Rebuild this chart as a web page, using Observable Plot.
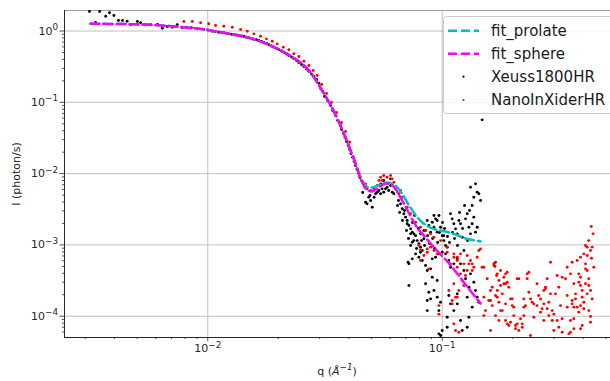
<!DOCTYPE html>
<html><head><meta charset="utf-8">
<script src="https://cdn.jsdelivr.net/npm/d3@7"></script>
<script src="https://cdn.jsdelivr.net/npm/@observablehq/plot@0.6"></script>
<style>
body{margin:0;background:#fff;}
#chart{position:relative;width:610px;height:381px;overflow:hidden;}
</style></head><body><div id="chart"></div>
<script>
// ---- tick values / labels ----
const xMajor = [0.01, 0.1];
const xMajorLabels = [["10","−2"],["10","−1"]];
const xMinor = [0.003,0.004,0.005,0.006,0.007,0.008,0.009,0.02,0.03,0.04,0.05,0.06,0.07,0.08,0.09,0.2,0.3,0.4,0.5];
const yMajor = [1, 0.1, 0.01, 0.001, 0.0001];
const yMajorLabels = [["10","0"],["10","−1"],["10","−2"],["10","−3"],["10","−4"]];
const yMinor = [0.9,0.8,0.7,0.6,0.5,0.4,0.3,0.2,0.09,0.08,0.07,0.06,0.05,0.04,0.03,0.02,0.009,0.008,0.007,0.006,0.005,0.004,0.003,0.002,0.0009,0.0008,0.0007,0.0006,0.0005,0.0004,0.0003,0.0002,0.00009,0.00008,0.00007,0.00006];
const xDomain = [0.002449, 0.522];
const yDomain = [5.03e-5, 1.94];
const seriesNames = ["fit_prolate","fit_sphere","Xeuss1800HR","NanoInXiderHR"];
const seriesColors = ["#00bfbf","#ff00ff","#000000","#ff0000"];

// ---- fits [q, I] ----
const sphere = [[0.00316,1.262],[0.00425,1.254],[0.0057,1.22],[0.00766,1.14],[0.01,1.035],[0.01251,0.905],[0.01522,0.79],[0.01854,0.625],[0.02148,0.49],[0.0249,0.36],[0.02744,0.262],[0.0303,0.158],[0.0334,0.092],[0.0368,0.0473],[0.0399,0.0248],[0.0427,0.01386],[0.0448,0.00881],[0.0476,0.00598],[0.0504,0.00561],[0.0535,0.00638],[0.0573,0.00726],[0.0614,0.00681],[0.0664,0.00462],[0.0719,0.00285],[0.0777,0.00181],[0.0849,0.00127],[0.0937,0.00087],[0.1033,0.000624],[0.114,0.000424],[0.1257,0.000279],[0.1457,0.000151]];
const prolate = [[0.00316,1.262],[0.00425,1.254],[0.0057,1.22],[0.00766,1.14],[0.01,1.035],[0.01251,0.905],[0.01522,0.79],[0.01854,0.625],[0.02148,0.49],[0.0249,0.36],[0.02744,0.262],[0.0303,0.158],[0.0334,0.092],[0.0368,0.0473],[0.0399,0.0248],[0.0427,0.01386],[0.0448,0.00881],[0.0476,0.00659],[0.0504,0.00638],[0.0545,0.00703],[0.0588,0.0075],[0.0632,0.00681],[0.0677,0.00509],[0.0732,0.00334],[0.0792,0.00234],[0.0857,0.00187],[0.0937,0.00164],[0.1033,0.00154],[0.114,0.0014],[0.1257,0.00123],[0.1457,0.00112]];

// ---- Xeuss1800HR [q, I] ----
const xeuss = [[0.00313,1.877],[0.00332,1.316],[0.00346,1.877],[0.00367,1.613],[0.00381,1.8],[0.00398,1.65],[0.00416,1.404],[0.00433,1.404],[0.00453,1.372],[0.00469,1.222],[0.00501,1.359],[0.00517,1.303],[0.00543,1.222],[0.0057,1.234],[0.00611,1.234],[0.0064,1.095],[0.00672,1.156],[0.00706,1.131],[0.00741,1.222],[0.00778,1.109],[0.00812,1.131],[0.00851,1.109],[0.00902,1.074],
[0.0096,1.056],[0.01,1.039],[0.01045,0.994],[0.01074,0.984],[0.01115,0.962],[0.01145,0.953],[0.01171,0.944],[0.01203,0.922],[0.0123,0.913],[0.01264,0.899],[0.01292,0.893],[0.01327,0.879],[0.01357,0.865],[0.01394,0.851],[0.01426,0.837],[0.01464,0.816],[0.01497,0.803],[0.01538,0.785],[0.01573,0.767],[0.01615,0.753],[0.01652,0.736],[0.01697,0.712],[0.01735,0.69],[0.01782,0.668],[0.01823,0.641],[0.01872,0.616],[0.01914,0.593],[0.01966,0.568],[0.02011,0.545],[0.02065,0.524],[0.02112,0.504],[0.02168,0.476],[0.02218,0.453],[0.02278,0.432],[0.0233,0.407],[0.02392,0.386],[0.02447,0.362],[0.02512,0.339],[0.0257,0.318],[0.02638,0.293],[0.027,0.273],[0.02771,0.249],[0.02836,0.23],[0.0291,0.209],[0.02978,0.185],[0.0303,0.156],[0.0309,0.1417],[0.0315,0.1206],[0.0324,0.106],[0.0334,0.0902],[0.0341,0.0767],[0.0351,0.0653],[0.0358,0.0556],[0.0368,0.0473],[0.0372,0.0416],[0.0379,0.0365],[0.0385,0.0321],[0.0391,0.0282],[0.0397,0.0248],[0.0403,0.0218],[0.0408,0.0191],[0.0415,0.0168],[0.0421,0.01478],[0.0427,0.013],[0.0433,0.01142],[0.044,0.01003],[0.0446,0.00882],[0.0453,0.008],[0.046,0.00726],[0.0467,0.00659],
[0.0458,0.00543],[0.0471,0.00397],[0.0478,0.00377],[0.0495,0.00419],[0.0503,0.00338],[0.0486,0.00467],[0.0512,0.00467],[0.052,0.00521],[0.0528,0.00548],[0.0537,0.00579],[0.0546,0.00521],[0.0554,0.00612],[0.0563,0.00548],[0.0573,0.00612],[0.0582,0.00645],[0.0591,0.00579],[0.0602,0.00681],[0.0612,0.00548],[0.0622,0.00521],[0.0602,0.00845],[0.0563,0.008],[0.0546,0.00719],[0.0512,0.00579],[0.0492,0.00493],
[0.0651,0.00419],[0.0664,0.00377],[0.0675,0.00321],[0.0686,0.00273],[0.0698,0.00245],[0.0709,0.0022],[0.0721,0.00187],[0.0733,0.00168],[0.0745,0.00151],[0.0757,0.00115],[0.077,0.00135],[0.0795,0.00104],[0.0808,0.00093],[0.0822,0.000834],[0.0835,0.00122],[0.0849,0.00159],[0.0863,0.0022],[0.0877,0.00187],[0.0892,0.00151],[0.0907,0.00208],[0.0922,0.00258],[0.0937,0.00232],[0.0952,0.0022],[0.0968,0.00258],[0.0984,0.00177],[0.1,0.00135],[0.1016,0.00115],[0.1033,0.00098],[0.105,0.00093],[0.1085,0.00273],[0.1103,0.00232],[0.1121,0.00198],[0.114,0.00168],[0.1159,0.00143],[0.1178,0.0022],[0.1197,0.00198],[0.1217,0.00128],[0.1237,0.000834],[0.1257,0.00232],[0.1278,0.00273],[0.1299,0.00177],[0.132,0.00143],[0.1342,0.00357],[0.1364,0.00467],[0.1387,0.00719],[0.141,0.00548],[0.1433,0.00521],[0.1457,0.00419],[0.1364,0.00245],[0.1342,0.00198],[0.141,0.00177],[0.1387,0.00151],[0.132,0.00645],[0.148,0.0568],
[0.0709,0.00198],[0.0757,0.00143],[0.0782,0.00115],[0.0808,0.00143],[0.0835,0.00159],[0.0922,0.00177],[0.0952,0.00151],[0.1016,0.00135],[0.0721,0.000543],[0.0745,0.000638],[0.077,0.00075],[0.0795,0.000672],[0.0808,0.00079],[0.0822,0.000604],[0.0849,0.000514],[0.0863,0.000438],[0.0892,0.000462],[0.0907,0.000638],[0.0937,0.000672],[0.0968,0.00075],[0.1,0.00079],[0.1033,0.00075],[0.1067,0.000604],[0.1085,0.000487],[0.1121,0.000543],[0.1159,0.000638],[0.1197,0.000543],[0.1237,0.000438],[0.1257,0.000335],[0.1299,0.000255],[0.132,0.000393],[0.1364,0.0003],[0.1387,0.000229],[0.141,0.000185],[0.1433,0.000157],[0.0849,0.000285],[0.0877,0.000217],[0.0863,0.00012],[0.0892,0.000175],[0.0952,0.000185],[0.0984,0.000157],[0.1,0.000063],[0.0984,0.0000536],[0.105,0.0000969],[0.105,0.0000702],[0.1085,0.000149],[0.1121,0.00012],[0.1159,0.000149],[0.1197,0.000087],[0.1217,0.000063],[0.1278,0.0000702],[0.1299,0.0000969],[0.1342,0.000134],[0.1278,0.000185],[0.1159,0.000206],[0.0907,0.000352],[0.0952,0.000317],[0.0721,0.00027],[0.0863,0.000166],[0.0968,0.00012],[0.1067,0.000195],[0.0715,0.000572],[0.0733,0.00143],[0.0745,0.00109],[0.0922,0.000229],[0.0968,0.0000566],
[0.0645,0.00357],[0.0658,0.00285],[0.0677,0.0022],[0.069,0.00304],[0.0704,0.00159],[0.0718,0.00123],[0.0733,0.00098],[0.0747,0.00206],[0.0762,0.00258],[0.0777,0.00089],[0.0792,0.0017],[0.0816,0.00115],[0.0841,0.00098],[0.0866,0.00135],[0.0883,0.00105],[0.091,0.00123],[0.0928,0.00089],[0.0956,0.00108],[0.0974,0.00149],[0.1003,0.00206],[0.1023,0.0017],[0.1053,0.00131],[0.1074,0.00108],[0.1107,0.00149],[0.1128,0.00123],[0.1162,0.00098],[0.1185,0.00285],[0.1221,0.0017],[0.1245,0.00357],[0.1283,0.00115],[0.1308,0.00304]];

// ---- NanoInXiderHR [q, I] ----
const nano = [[0.00791,1.359],[0.00859,1.359],[0.00932,1.303],[0.0101,1.262],[0.0108,1.194],[0.01171,1.168],[0.01272,1.131],[0.0138,1.05],[0.01474,0.994],[0.01573,0.913],[0.0168,0.846],[0.0178,0.777],[0.01884,0.719],[0.01978,0.661],[0.021,0.593],[0.02218,0.545],[0.0233,0.479],[0.02447,0.439],[0.0257,0.377],[0.027,0.328],[0.02817,0.279],[0.0293,0.238],[0.0306,0.1777],[0.0321,0.1328],[0.0337,0.0994],[0.0354,0.0719],[0.0372,0.0521],[0.0387,0.039],[0.0403,0.0277],[0.042,0.0167],[0.0434,0.01167],[0.0444,0.0091],
[0.0471,0.00719],[0.0478,0.00612],[0.0495,0.00579],[0.0512,0.00612],[0.0528,0.00681],[0.0537,0.008],[0.0546,0.0089],[0.0554,0.008],[0.0563,0.0094],[0.0582,0.0089],[0.0602,0.0094],[0.0612,0.00845],[0.0622,0.00757],[0.0632,0.00612],[0.0653,0.00521],[0.0664,0.00579],[0.0675,0.00467],[0.0709,0.00338],[0.0733,0.00273],[0.077,0.00208],[0.0808,0.00177],[0.0849,0.00159],[0.0892,0.00143],[0.0922,0.00128],[0.0795,0.00098],[0.0863,0.00088],[0.0984,0.00115],[0.105,0.00093],[0.1159,0.000672],[0.1278,0.00071],[0.1342,0.000543],[0.1457,0.00088],[0.148,0.000487],[0.1662,0.000514],[0.0877,0.000462],[0.0808,0.000604],
[0.0808,0.000853],[0.0835,0.00071],[0.0863,0.00079],[0.0892,0.00093],[0.0922,0.000834],[0.0952,0.00075],[0.105,0.00079],[0.1085,0.000543],[0.1121,0.000672],[0.1159,0.000487],[0.1197,0.000393],[0.1237,0.000543],[0.1278,0.000438],[0.132,0.000604],[0.1364,0.000487],[0.141,0.000672],[0.1433,0.000834],[0.1067,0.000229],[0.1121,0.000285],[0.1159,0.000185],[0.1103,0.000149],[0.114,0.000063],[0.1178,0.0000596],[0.0968,0.000141],[0.1505,0.000185],[0.153,0.00012],[0.158,0.000166],[0.1634,0.000141],[0.1688,0.000102],[0.1745,0.000087],[0.1803,0.00012],[0.1862,0.000149],[0.1662,0.000543],[0.1717,0.000393],[0.1773,0.000438],[0.1832,0.000352],[0.1893,0.0003],[0.1607,0.000063],[0.1505,0.000102],
[0.1688,0.000572],[0.1705,0.000372],[0.1717,0.000229],[0.1745,0.000157],[0.1773,0.00012],[0.1803,0.000206],[0.1832,0.000285],[0.1862,0.000393],[0.1893,0.000414],[0.1923,0.000255],[0.1893,0.0000782],[0.1956,0.0000823],[0.1988,0.000175],[0.202,0.000134],[0.2054,0.0000741],[0.2088,0.0000782],[0.2122,0.000335],[0.2158,0.000092],[0.2193,0.0000701],[0.2229,0.000175],[0.2229,0.000134],[0.2266,0.000141],[0.2304,0.000393],[0.2342,0.000217],[0.238,0.0000536],[0.2419,0.000157],[0.2459,0.0000969],[0.2537,0.000285],[0.2578,0.000195],[0.2626,0.000175],[0.2668,0.000127],[0.2713,0.000087],[0.2758,0.000242],[0.2803,0.000335],[0.2849,0.000157],[0.2897,0.000572],[0.2945,0.00012],[0.2993,0.000063],[0.3042,0.000206],[0.3092,0.000372],[0.3143,0.000255],[0.3196,0.000141],[0.3248,0.000092],[0.3356,0.000335],[0.3411,0.000195],[0.3467,0.0000566],[0.3525,0.000393],[0.3583,0.000572],[0.3642,0.000285],[0.3702,0.000175],[0.3763,0.000604],[0.3825,0.000393],[0.3889,0.00027],[0.3953,0.0000741],[0.4018,0.00075],[0.4084,0.000543],[0.4151,0.000438],[0.4219,0.000335],[0.4151,0.000206],[0.429,0.000834],[0.4361,0.00093],[0.4433,0.000487],[0.4219,0.00012],[0.429,0.0000992],[0.3763,0.000134],[0.3825,0.000114],[0.3583,0.000166],[0.3642,0.000134],[0.3525,0.000087],[0.3953,0.000185],[0.4018,0.000157],[0.3525,0.0000596],[0.3642,0.0000666],[0.3889,0.0000666],
[0.2088,0.000335],[0.4322,0.00181],[0.4398,0.00143],[0.4151,0.00093],[0.3889,0.000672],[0.3411,0.000487],[0.3248,0.000352],[0.2713,0.000229],[0.421,0.00115],[0.4084,0.00098],[0.4333,0.00065],[0.0968,0.000107],[0.1121,0.0000782],
[0.167,0.000553],[0.1678,0.000498],[0.1634,0.000255],[0.1745,0.000317],[0.1717,0.000185],[0.1607,0.000166],[0.1862,0.000285],[0.1956,0.000175],[0.1988,0.000141],[0.1862,0.000087],[0.1923,0.0000741],[0.202,0.000102],[0.2054,0.0000666],[0.2122,0.000063],[0.2193,0.0000782],[0.2229,0.000102],[0.2304,0.000335],[0.2342,0.000414],[0.238,0.000175],[0.2459,0.000149],[0.2537,0.000141],[0.2626,0.000114],[0.2713,0.000149],[0.2758,0.000255],[0.2803,0.000127],[0.2849,0.000102],[0.2897,0.000206],[0.2945,0.000087],[0.2993,0.000107],[0.3092,0.000087],[0.3143,0.0000702],[0.3248,0.0000596],[0.3411,0.000134],[0.3583,0.000149],[0.3642,0.000092],[0.3702,0.000206],[0.3825,0.0003],[0.3889,0.000352],[0.3953,0.000229],[0.4084,0.000285],[0.4219,0.00027],[0.4151,0.00071],[0.4084,0.000462],[0.429,0.000229],[0.4361,0.000175],[0.3889,0.000141],[0.4018,0.000127],[0.429,0.0000823],
[0.1505,0.000487],[0.1555,0.000335],[0.1607,0.000229],[0.1688,0.000195],[0.1773,0.00027],[0.1299,0.000543],[0.1342,0.000438],[0.1257,0.000372],[0.1217,0.000317],[0.1237,0.00027],[0.1178,0.000229],[0.114,0.000185],[0.1103,0.000166],[0.1159,0.000604],[0.1121,0.00075],[0.1197,0.00075]];

const q = d => d[0], I = d => d[1];
const axisColor = "#262626";
const fmt = (ticks, labels) => d => { const i = ticks.indexOf(d); return i >= 0 ? labels[i].join("") : ""; };
const dash = "9,4";

const chart = Plot.plot({
  width: 610, height: 381,
  marginLeft: 64, marginRight: 0, marginTop: 10, marginBottom: 44,
  style: {fontFamily: "'DejaVu Sans', sans-serif", fontSize: "11px", color: axisColor, background: "#fff", overflow: "visible"},
  x: {type: "log", domain: xDomain, axis: null},
  y: {type: "log", domain: yDomain, axis: null},
  marks: [
    Plot.gridX(xMajor, {stroke: "#b0b0b0", strokeOpacity: 1, strokeWidth: 0.8}),
    Plot.gridY(yMajor, {stroke: "#b0b0b0", strokeOpacity: 1, strokeWidth: 0.8}),
    Plot.ruleY([yDomain[1]], {stroke: "#a0a0a0", strokeWidth: 1}),
    Plot.dot(xeuss, {x: q, y: I, r: 1.45, fill: seriesColors[2], stroke: null, clip: true}),
    Plot.dot(nano, {x: q, y: I, r: 1.45, fill: seriesColors[3], stroke: null, clip: true}),
    Plot.line(prolate, {x: q, y: I, stroke: seriesColors[0], strokeWidth: 2.5, strokeDasharray: dash, curve: "catmull-rom"}),
    Plot.line(sphere, {x: q, y: I, stroke: seriesColors[1], strokeWidth: 2.5, strokeDasharray: dash, curve: "catmull-rom"}),
    Plot.axisX(xMinor, {tickSize: 2, tickFormat: () => "", label: null, stroke: axisColor, strokeWidth: 0.8}),
    Plot.axisX(xMajor, {tickSize: 4, tickPadding: 3, tickFormat: fmt(xMajor, xMajorLabels), label: null, stroke: axisColor, strokeWidth: 0.8}),
    Plot.axisY(yMinor, {tickSize: 2, tickFormat: () => "", label: null, stroke: axisColor, strokeWidth: 0.8}),
    Plot.axisY(yMajor, {tickSize: 4.5, tickPadding: 2, tickFormat: fmt(yMajor, yMajorLabels), label: null, stroke: axisColor, strokeWidth: 0.8}),
    Plot.ruleX([xDomain[0]], {stroke: axisColor, strokeWidth: 1}),
    Plot.ruleY([yDomain[0]], {stroke: axisColor, strokeWidth: 1})
  ]
});
document.getElementById("chart").appendChild(chart);

const svg = d3.select(chart);
// make sure the fit lines are dashed
svg.selectAll("path").each(function() {
  const g = this.parentNode;
  const s = (g && g.getAttribute && g.getAttribute("stroke")) || this.getAttribute("stroke");
  if (s === seriesColors[0] || s === seriesColors[1]) d3.select(this).attr("stroke-dasharray", dash);
});
// superscript tick labels
function supLabels(sel, labels) {
  sel.each(function() {
    const t = d3.select(this);
    const lab = labels.find(l => l.join("") === t.text());
    if (!lab) return;
    t.text(null);
    t.append("tspan").text(lab[0]);
    t.append("tspan").attr("font-size", "8.8px").attr("dy", "-0.5em").text(lab[1]);
  });
}
supLabels(svg.selectAll("text"), xMajorLabels.concat(yMajorLabels));

// axis labels
const xl = svg.append("text").attr("x", 337).attr("y", 375).attr("text-anchor", "middle")
  .attr("fill", axisColor).attr("font-size", "11px");
xl.append("tspan").text("q (");
xl.append("tspan").attr("font-style", "italic").text("Å");
xl.append("tspan").attr("font-size", "8.8px").attr("dy", "-0.55em").attr("font-style", "italic").text("−1");
xl.append("tspan").attr("dy", "0.45em").text(")");
svg.append("text").attr("transform", "translate(17,174) rotate(-90)").attr("text-anchor", "middle")
  .attr("dominant-baseline", "middle").attr("fill", axisColor).attr("font-size", "11px").text("I (photon/s)");

// legend
const lg = svg.append("g");
lg.append("rect").attr("x", 443.5).attr("y", 16.5).attr("width", 180).attr("height", 97).attr("rx", 3)
  .attr("fill", "#fff").attr("fill-opacity", 0.8).attr("stroke", "#cccccc");
const rowsY = [30.7, 53.7, 76.7, 100];
seriesNames.forEach((name, i) => {
  if (i < 2) {
    lg.append("line").attr("x1", 448).attr("x2", 479).attr("y1", rowsY[i]).attr("y2", rowsY[i])
      .attr("stroke", seriesColors[i]).attr("stroke-width", 2.5).attr("stroke-dasharray", dash);
  } else {
    lg.append("circle").attr("cx", 463.5).attr("cy", rowsY[i]).attr("r", 1.1).attr("fill", seriesColors[i]);
  }
  lg.append("text").attr("x", 491).attr("y", rowsY[i]).attr("dominant-baseline", "central")
    .attr("text-anchor", "start").attr("font-size", "15px").attr("fill", "#1a1a1a").text(name);
});
</script></body></html>
